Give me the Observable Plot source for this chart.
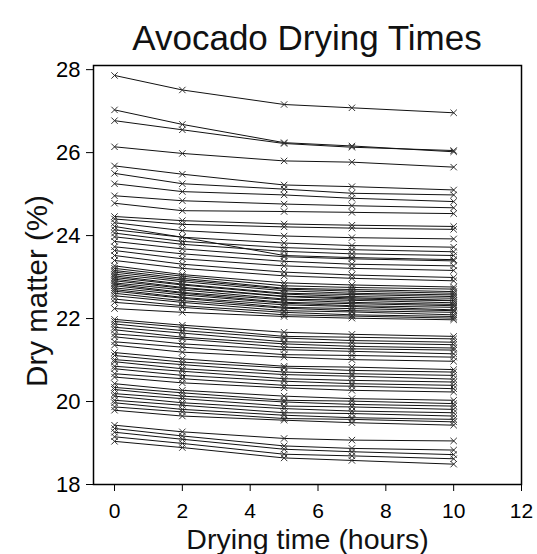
<!DOCTYPE html>
<html>
<head>
<meta charset="utf-8">
<script src="https://cdn.jsdelivr.net/npm/d3@7"></script>
<script src="https://cdn.jsdelivr.net/npm/@observablehq/plot@0.6"></script>
<style>
  body { margin: 0; background: #fff; font-family: "Liberation Sans", Arial, sans-serif; }
  #title {
    box-sizing: border-box; width: 537px; height: 57px; overflow: hidden;
    padding: 20px 16px 0 93px; line-height: 36px;
    font-size: 35px; text-align: center; color: #111;
  }
  #chart svg { display: block; }
</style>
</head>
<body>
<div id="title">Avocado Drying Times</div>
<div id="chart"></div>
<script>
// Sampling times (hours) shared by every avocado sample
const hours = [0, 2, 5, 7, 10];

// Dry matter (%) of each sample at those times, grouped by starting level
const highSamples = [
  [27.86, 27.51, 27.16, 27.08, 26.96],
  [27.03, 26.68, 26.24, 26.16, 26.02],
  [26.77, 26.55, 26.22, 26.13, 26.05],
  [26.14, 25.98, 25.80, 25.77, 25.65],
  [25.68, 25.48, 25.22, 25.18, 25.10],
  [25.50, 25.25, 25.12, 25.02, 24.98],
  [25.25, 25.06, 24.98, 24.90, 24.82],
  [24.96, 24.84, 24.76, 24.72, 24.67],
  [24.78, 24.60, 24.58, 24.56, 24.53]
];
const samples24 = [
  [24.46, 24.36, 24.28, 24.25, 24.22],
  [24.40, 24.27, 24.21, 24.18, 24.15],
  [24.31, 24.12, 23.99, 23.95, 23.92],
  [24.22, 23.96, 23.52, 23.47, 23.42],
  [24.14, 23.96, 23.82, 23.76, 23.72],
  [24.06, 23.86, 23.71, 23.66, 23.61],
  [23.97, 23.79, 23.62, 23.56, 23.52],
  [23.86, 23.68, 23.49, 23.44, 23.39],
  [23.73, 23.56, 23.38, 23.31, 23.27],
  [23.64, 23.44, 23.27, 23.21, 23.16],
  [23.52, 23.31, 23.12, 23.05, 22.99],
  [23.40, 23.21, 23.03, 22.97, 22.91]
];
const samples23 = [
  [23.27, 23.06, 22.86, 22.81, 22.76],
  [23.21, 23.02, 22.79, 22.75, 22.71],
  [23.16, 22.97, 22.73, 22.70, 22.65],
  [23.12, 22.93, 22.71, 22.66, 22.61],
  [23.07, 22.89, 22.67, 22.61, 22.57],
  [23.03, 22.83, 22.61, 22.58, 22.53],
  [22.99, 22.81, 22.59, 22.53, 22.49],
  [22.95, 22.75, 22.54, 22.50, 22.44],
  [22.91, 22.73, 22.53, 22.47, 22.43],
  [22.86, 22.69, 22.47, 22.44, 22.38],
  [22.83, 22.63, 22.45, 22.39, 22.34],
  [22.79, 22.61, 22.39, 22.36, 22.31],
  [22.74, 22.57, 22.37, 22.31, 22.27],
  [22.70, 22.51, 22.33, 22.29, 22.21],
  [22.66, 22.49, 22.27, 22.24, 22.19],
  [22.61, 22.43, 22.25, 22.19, 22.15],
  [22.55, 22.39, 22.19, 22.16, 22.09],
  [22.47, 22.31, 22.15, 22.09, 22.05],
  [22.39, 22.27, 22.09, 22.06, 22.01],
  [22.24, 22.15, 22.05, 22.01, 21.97]
];
const samples22 = [
  [21.98, 21.84, 21.67, 21.62, 21.57],
  [21.93, 21.79, 21.57, 21.55, 21.51],
  [21.87, 21.71, 21.53, 21.47, 21.43],
  [21.79, 21.65, 21.44, 21.41, 21.37],
  [21.73, 21.55, 21.39, 21.33, 21.29],
  [21.63, 21.51, 21.31, 21.27, 21.24],
  [21.56, 21.39, 21.25, 21.21, 21.15],
  [21.44, 21.31, 21.13, 21.11, 21.07],
  [21.36, 21.19, 21.07, 21.01, 20.97]
];
const samples21 = [
  [21.18, 21.03, 20.85, 20.83, 20.77],
  [21.11, 20.95, 20.81, 20.75, 20.71],
  [21.01, 20.89, 20.71, 20.67, 20.63],
  [20.96, 20.79, 20.65, 20.61, 20.54],
  [20.85, 20.73, 20.55, 20.51, 20.47],
  [20.79, 20.63, 20.49, 20.43, 20.39],
  [20.67, 20.55, 20.39, 20.37, 20.31],
  [20.59, 20.45, 20.33, 20.27, 20.23]
];
const samples20 = [
  [20.43, 20.27, 20.13, 20.07, 20.03],
  [20.34, 20.21, 20.03, 20.01, 19.95],
  [20.29, 20.13, 19.99, 19.93, 19.89],
  [20.19, 20.07, 19.89, 19.87, 19.81],
  [20.13, 19.97, 19.83, 19.77, 19.73],
  [20.03, 19.91, 19.73, 19.71, 19.65],
  [19.97, 19.81, 19.67, 19.61, 19.57],
  [19.87, 19.75, 19.59, 19.57, 19.51],
  [19.79, 19.65, 19.55, 19.49, 19.43]
];
const lowSamples = [
  [19.43, 19.27, 19.11, 19.07, 19.05],
  [19.35, 19.17, 18.93, 18.87, 18.83],
  [19.26, 19.09, 18.85, 18.79, 18.72],
  [19.15, 18.99, 18.73, 18.69, 18.62],
  [19.04, 18.89, 18.64, 18.58, 18.49]
];

const xTicks = [0, 2, 4, 6, 8, 10, 12];
const yTicks = [18, 20, 22, 24, 26, 28];
const xTitle = "Drying time (hours)";
const yTitle = "Dry matter (%)";

// Long format: one row per sample per sampling time
const allSamples = [highSamples, samples24, samples23, samples22, samples21, samples20, lowSamples].flat();
const rows = [];
allSamples.forEach((series, i) => {
  hours.forEach((h, j) => rows.push({sample: i, hours: h, dm: series[j]}));
});

const chart = Plot.plot({
  width: 537,
  height: 497,
  marginLeft: 93,
  marginRight: 16,
  marginTop: 8,
  marginBottom: 70,
  style: {fontFamily: "Liberation Sans, Arial, sans-serif", background: "#fff", color: "#000", overflow: "visible"},
  x: {domain: [-0.62, 12]},
  y: {domain: [18, 28.1]},
  marks: [
    Plot.lineY(rows, {x: "hours", y: "dm", z: "sample", stroke: "#111", strokeWidth: 1}),
    Plot.dot(rows, {x: "hours", y: "dm", symbol: "times", r: 3, stroke: "#333", strokeWidth: 1}),
    Plot.frame({stroke: "#000", strokeWidth: 1.5}),
    Plot.axisX({ticks: xTicks, tickSize: 7, tickPadding: 12, fontSize: 21, label: null}),
    Plot.axisY({ticks: yTicks, tickSize: 7, tickPadding: 6, fontSize: 22, label: null}),
    Plot.text([xTitle], {text: d => d, frameAnchor: "bottom", lineAnchor: "bottom", dy: 64, fontSize: 28.5, fill: "#111"}),
    Plot.text([yTitle], {text: d => d, frameAnchor: "left", textAnchor: "middle", lineAnchor: "middle", dx: -56, dy: 16, rotate: -90, fontSize: 29.5, fill: "#111"})
  ]
});
document.getElementById("chart").appendChild(chart);
</script>
</body>
</html>
